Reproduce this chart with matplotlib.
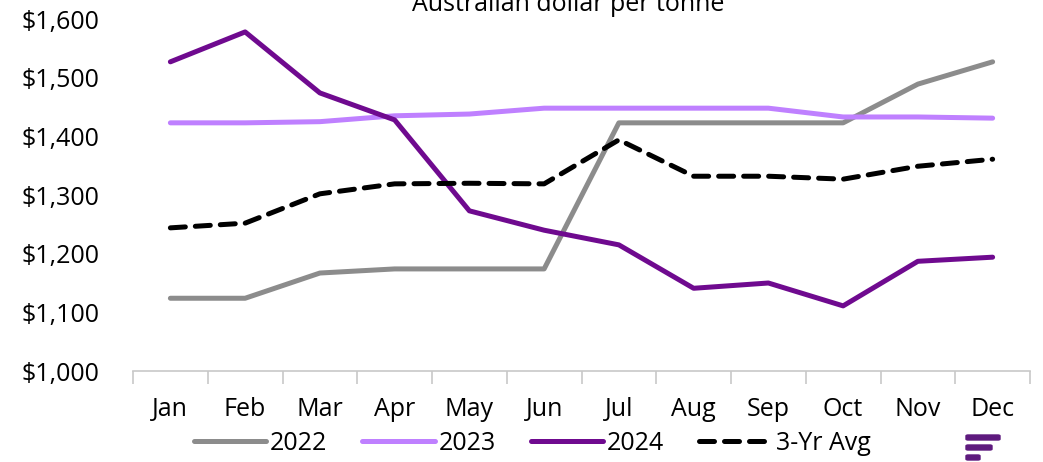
import numpy as np
import matplotlib.pyplot as plt
from matplotlib.patches import FancyBboxPatch

plt.rcParams['font.family'] = ['Open Sans', 'DejaVu Sans']

# Monthly prices, Australian dollar per tonne
months = ['Jan', 'Feb', 'Mar', 'Apr', 'May', 'Jun', 'Jul', 'Aug', 'Sep', 'Oct', 'Nov', 'Dec']
y2022 = [1124, 1124, 1167, 1174, 1174, 1174, 1423, 1423, 1423, 1423, 1489, 1527]
y2023 = [1423, 1423, 1425, 1435, 1438, 1448, 1448, 1448, 1448, 1433, 1433, 1431]
y2024 = [1527, 1578, 1474, 1428, 1273, 1240, 1215, 1141, 1150, 1111, 1187, 1194]
avg3 = [1244, 1252, 1302, 1319, 1320, 1319, 1394, 1332, 1332, 1327, 1349, 1361]

fig = plt.figure(figsize=(10.43, 4.62), dpi=100)
ax = fig.add_axes([133 / 1043, 1 - 371 / 462, (1030 - 133) / 1043, (371 - 19) / 462])

x = np.arange(len(months))
lw = 3.6
ax.plot(x, y2022, color='#8c8c8c', lw=lw, solid_capstyle='round', label='2022')
ax.plot(x, y2023, color='#bf80ff', lw=lw, solid_capstyle='round', label='2023')
ax.plot(x, y2024, color='#6f0a8f', lw=lw, solid_capstyle='round', label='2024')
ax.plot(x, avg3, color='black', lw=lw, linestyle=(0, (3, 2)), dash_capstyle='round', label='3-Yr Avg')

ax.set_xlim(-0.5, 11.5)
ax.set_ylim(1000, 1600)
ax.set_yticks(range(1000, 1601, 100))
ax.set_yticklabels([f'${v:,}' for v in range(1000, 1601, 100)], fontsize=18)
ax.set_xticks(x)
ax.set_xticklabels(months, fontsize=18)
ax.set_xticks(np.arange(-0.5, 12, 1), minor=True)
ax.tick_params(axis='x', which='major', length=0, pad=19)
ax.tick_params(axis='x', which='minor', length=9, color='#c8c8c8', width=1.2)
ax.tick_params(axis='y', length=0, pad=24)

for s in ['top', 'right', 'left']:
    ax.spines[s].set_visible(False)
ax.spines['bottom'].set_color('#c8c8c8')
ax.spines['bottom'].set_linewidth(1.2)

fig.text(568 / 1043, 1 - 11 / 462, 'Australian dollar per tonne', ha='center', va='baseline', fontsize=18)

fig.legend(loc='center', bbox_to_anchor=(532 / 1043, 1 - 443 / 462), ncol=4, frameon=False,
           fontsize=18, handlelength=2.9, handletextpad=0.15, columnspacing=1.4)

# small logo at bottom right
logo_color = '#5e1a7e'
for i, w in enumerate([34, 26, 14]):
    fig.patches.append(FancyBboxPatch(((966) / 1043, 1 - (434 + i * 10 + 6) / 462), w / 1043, 5 / 462,
                                      boxstyle='round,pad=0,rounding_size=0.002',
                                      transform=fig.transFigure, color=logo_color))

fig.savefig('out.png', dpi=100)
